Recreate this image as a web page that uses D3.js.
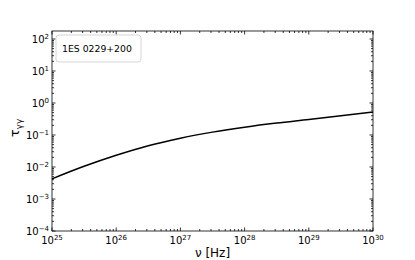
<!DOCTYPE html>
<html>
<head>
<meta charset="utf-8">
<script src="https://cdn.jsdelivr.net/npm/d3@7"></script>
<style>
  body { margin: 0; background: #fff; }
  svg { font-family: "DejaVu Sans", sans-serif; }
</style>
</head>
<body>
<div id="chart"></div>
<script>
// frequency (Hz) and optical depth
const freq = [1e25, 3.16e25, 1e26, 3.16e26, 1e27, 3.16e27, 1e28, 3.16e28, 1e29, 3.16e29, 1e30];
const tau = [0.00427, 0.0105, 0.0232, 0.0462, 0.0794, 0.123, 0.176, 0.237, 0.305, 0.398, 0.525];
const xTickExp = [25, 26, 27, 28, 29, 30];
const yTickExp = [-4, -3, -2, -1, 0, 1, 2];
const sourceName = "1ES 0229+200";

let width = 415, height = 260;
let margin = {left: 52, right: 42, top: 31, bottom: 29};
let iw = width - margin.left - margin.right;
let ih = height - margin.top - margin.bottom;

let svg = d3.select('#chart').append('svg')
    .attr('width', width)
    .attr('height', height);

let g = svg.append('g').attr('transform', `translate(${margin.left},${margin.top})`);

let x = d3.scaleLog().domain([1e25, 1e30]).range([0, iw]);
let y = d3.scaleLog().domain([1e-4, Math.pow(10, 2.25)]).range([ih, 0]);

// minor ticks 2..9 in each decade
function minors(lo, hi) {
    let out = [];
    for (let e = lo; e < hi; e++) {
        for (let m = 2; m <= 9; m++) out.push(m * Math.pow(10, e));
    }
    return out;
}
let xMinor = minors(25, 30);
let yMinor = minors(-4, 3).filter(v => v <= y.domain()[1]);

let ticks = g.append('g').attr('stroke', '#000').attr('stroke-width', 0.8);

// x ticks, bottom and top, pointing in
xTickExp.forEach(e => {
    let px = x(Math.pow(10, e));
    ticks.append('line').attr('x1', px).attr('x2', px).attr('y1', ih).attr('y2', ih - 3.5);
    ticks.append('line').attr('x1', px).attr('x2', px).attr('y1', 0).attr('y2', 3.5);
});
xMinor.forEach(v => {
    let px = x(v);
    ticks.append('line').attr('x1', px).attr('x2', px).attr('y1', ih).attr('y2', ih - 2);
    ticks.append('line').attr('x1', px).attr('x2', px).attr('y1', 0).attr('y2', 2);
});
// y ticks, left and right
yTickExp.forEach(e => {
    let py = y(Math.pow(10, e));
    ticks.append('line').attr('y1', py).attr('y2', py).attr('x1', 0).attr('x2', 3.5);
    ticks.append('line').attr('y1', py).attr('y2', py).attr('x1', iw).attr('x2', iw - 3.5);
});
yMinor.forEach(v => {
    let py = y(v);
    ticks.append('line').attr('y1', py).attr('y2', py).attr('x1', 0).attr('x2', 2);
    ticks.append('line').attr('y1', py).attr('y2', py).attr('x1', iw).attr('x2', iw - 2);
});

// curve
let line = d3.line()
    .x((d, i) => x(freq[i]))
    .y(d => y(d))
    .curve(d3.curveMonotoneX);

g.append('path')
    .datum(tau)
    .attr('d', line)
    .attr('fill', 'none')
    .attr('stroke', '#000')
    .attr('stroke-width', 1.5);

// frame
g.append('rect')
    .attr('width', iw).attr('height', ih)
    .attr('fill', 'none')
    .attr('stroke', '#000')
    .attr('stroke-width', 0.8);

// tick labels
xTickExp.forEach(e => {
    let t = g.append('text')
        .attr('x', x(Math.pow(10, e)))
        .attr('y', ih + 13)
        .attr('text-anchor', 'middle')
        .attr('font-size', 10);
    t.append('tspan').text('10');
    t.append('tspan').attr('dy', -4.5).attr('font-size', 7).text(e);
});
yTickExp.forEach(e => {
    let t = g.append('text')
        .attr('x', -3)
        .attr('y', y(Math.pow(10, e)) + 4)
        .attr('text-anchor', 'end')
        .attr('font-size', 10);
    t.append('tspan').text('10');
    t.append('tspan').attr('dy', -4.5).attr('font-size', 7).text(e < 0 ? '\u2212' + (-e) : e);
});

// axis labels
svg.append('text')
    .attr('x', margin.left + iw / 2)
    .attr('y', height - 3)
    .attr('text-anchor', 'middle')
    .attr('font-size', 12)
    .text('\u03bd [Hz]');

let yl = svg.append('text')
    .attr('transform', `translate(19,${margin.top + ih / 2 - 3}) rotate(-90)`)
    .attr('text-anchor', 'middle')
    .attr('font-size', 13);
yl.append('tspan').text('\u03c4');
yl.append('tspan').attr('dy', 3).attr('font-size', 9).text('\u03b3\u03b3');

// legend
let lg = g.append('g').attr('transform', 'translate(4,4)');
lg.append('rect')
    .attr('width', 85).attr('height', 27)
    .attr('rx', 3)
    .attr('fill', '#fff')
    .attr('stroke', '#ccc')
    .attr('stroke-width', 0.8);
lg.append('text')
    .attr('x', 6).attr('y', 17)
    .attr('font-size', 9.3)
    .text(sourceName);
</script>
</body>
</html>
